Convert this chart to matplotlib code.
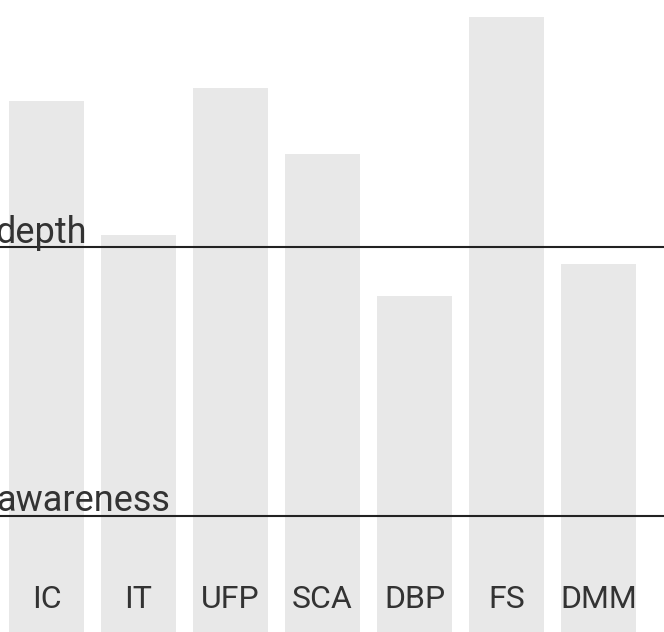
import matplotlib.pyplot as plt

# datos
categories = ['IC', 'IT', 'UFP', 'SCA', 'DBP', 'FS', 'DMM']
values = [531, 397, 544, 478, 336, 615, 368]
depth_level = 385
awareness_level = 116

fig = plt.figure(figsize=(6.64, 6.32), dpi=100)
ax = fig.add_axes([0, 0, 1, 1])

x = range(len(categories))
ax.bar(x, values, width=0.815, color='#e8e8e8', zorder=1)

ax.axhline(depth_level, color='#222222', lw=1.5, zorder=2)
ax.axhline(awareness_level, color='#222222', lw=1.5, zorder=2)

# etiquetas de los niveles (cortadas en el borde izquierdo)
ax.text(-0.55, depth_level + 4, 'depth', fontsize=26, family='Roboto',
        color='#333333', va='baseline', ha='left')
ax.text(-0.55, awareness_level + 5, 'awareness', fontsize=26, family='Roboto',
        color='#333333', va='baseline', ha='left')

for i, c in enumerate(categories):
    ax.text(i, 32, c, fontsize=23, family='Roboto',
            color='#333333', ha='center', va='center')

ax.set_xlim(-0.505, 6.71)
ax.set_ylim(0, 632)
ax.axis('off')

fig.savefig('out.png', dpi=100)
